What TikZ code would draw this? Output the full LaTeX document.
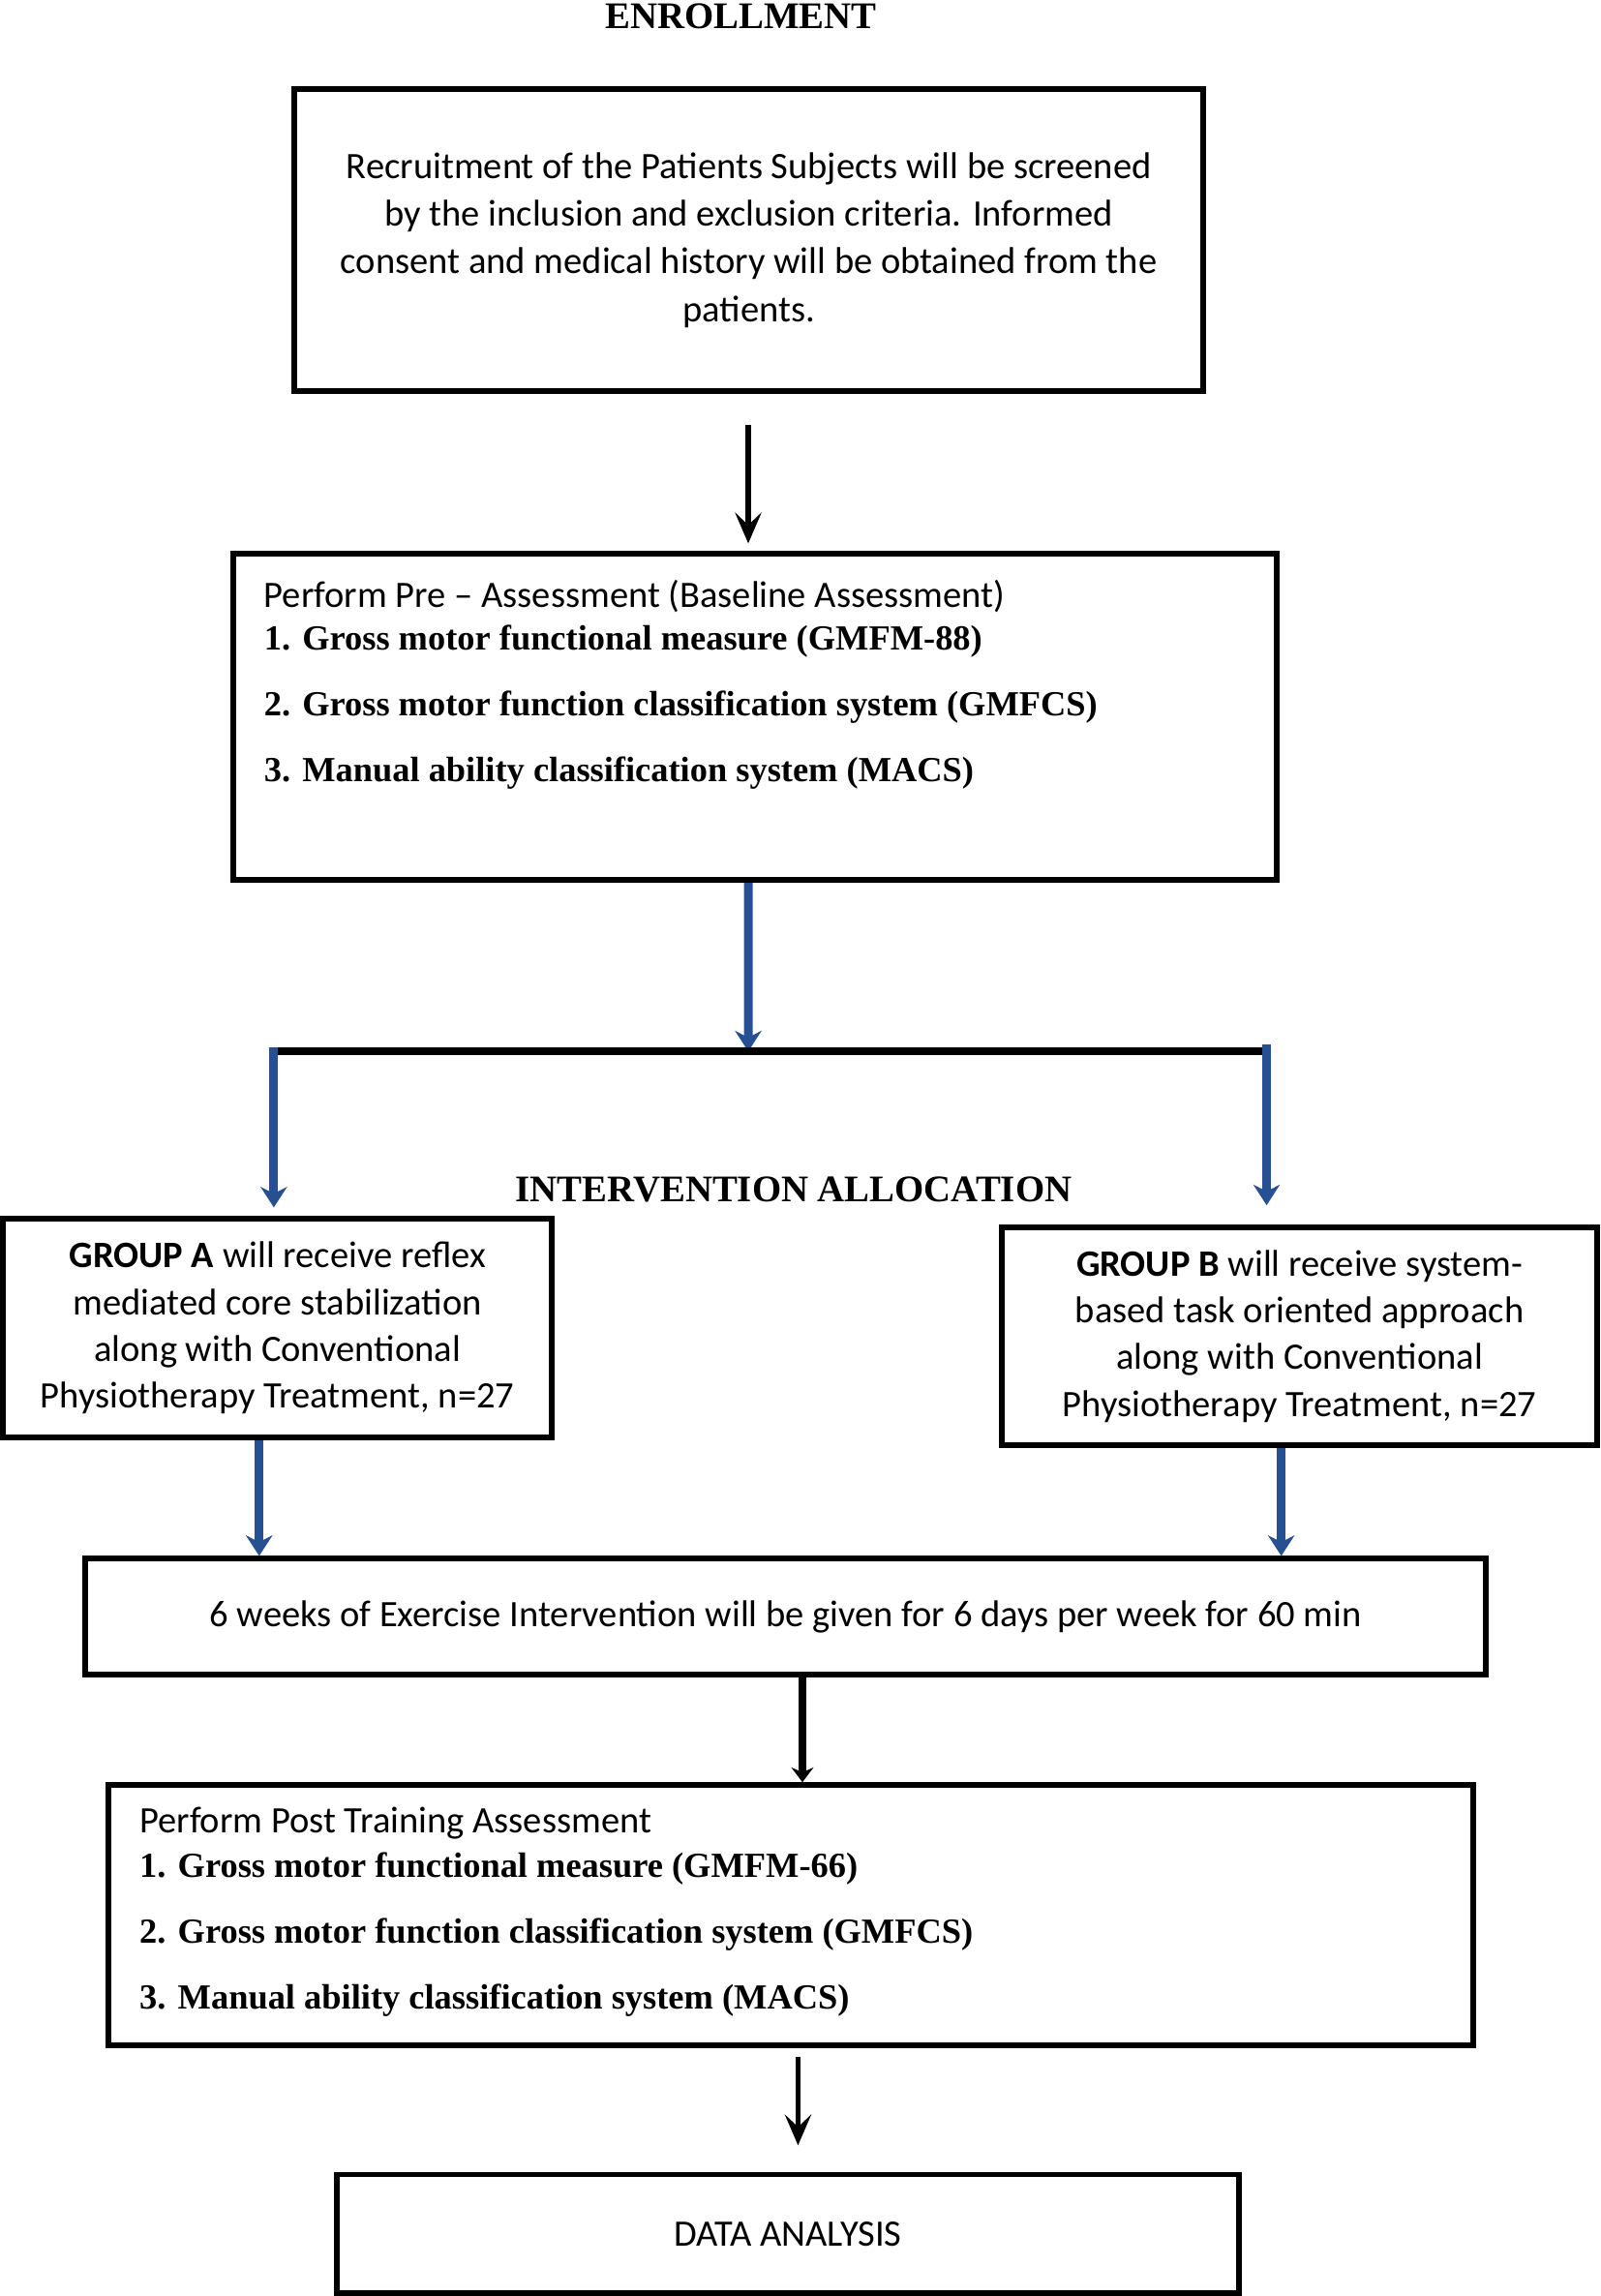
\documentclass[tikz,border=0pt]{standalone}
\usepackage{fontspec}
\setmainfont{Liberation Serif}
\newfontfamily\calibfont{Carlito}
\usetikzlibrary{arrows.meta}
\definecolor{arrowblue}{RGB}{38,80,145}
\begin{document}
\begin{tikzpicture}[x=0.02cm,y=-0.02cm,
  box/.style={draw, line width=2.2pt, inner sep=0pt, align=center,
    font=\calibfont\fontsize{14.5}{18.5}\selectfont},
  heading/.style={font=\bfseries\fontsize{14.6}{17}\selectfont, inner sep=0pt},
  bodytext/.style={font=\calibfont\fontsize{14.5}{18}\selectfont, inner sep=0pt, anchor=base west},
  itemtext/.style={font=\bfseries\fontsize{13.7}{17}\selectfont, inner sep=0pt, anchor=base west},
  blackarrow/.style={line width=2pt, -{Stealth[length=0.42cm,width=0.36cm,inset=0.17cm]}},
  thickarrow/.style={line width=3pt, -{Stealth[length=0.2cm,width=0.3cm]}},
  bluearrow/.style={draw=arrowblue, line width=3.4pt, -{Stealth[length=0.28cm,width=0.36cm]}, arrowblue},
]
\useasboundingbox (0,0) rectangle (1093,1568);

% Headings
\node[heading, anchor=base] (enroll) at (506,19.5) {ENROLLMENT};
\node[heading, anchor=base] (alloc) at (542,821) {INTERVENTION ALLOCATION};

% Box 1
\node[box, minimum width=12.42cm, minimum height=4.12cm] (b1) at (511.5,164)
  {Recruitment of the Patients Subjects will be screened\\
   by the inclusion and exclusion criteria. Informed\\
   consent and medical history will be obtained from the\\
   patients.};

% Box 2
\node[box, minimum width=14.26cm, minimum height=4.46cm] (b2) at (515.5,489.5) {};
\node[bodytext] (b2t0) at (180,415) {Perform Pre – Assessment (Baseline Assessment)};
\node[itemtext] (b2t1) at (180,444) {1. Gross motor functional measure (GMFM-88)};
\node[itemtext] (b2t2) at (180,489) {2. Gross motor function classification system (GMFCS)};
\node[itemtext] (b2t3) at (180,534) {3. Manual ability classification system (MACS)};

% Group boxes
\node[box, minimum width=7.5cm, minimum height=2.98cm, font=\calibfont\fontsize{14.5}{18.2}\selectfont] (ga) at (189.5,907)
  {\textbf{GROUP A} will receive reflex\\
   mediated core stabilization\\
   along with Conventional\\
   Physiotherapy Treatment, n=27};
\node[box, minimum width=8.14cm, minimum height=2.98cm, font=\calibfont\fontsize{14.5}{18.2}\selectfont] (gb) at (887.5,912.5)
  {\textbf{GROUP B} will receive system-\\
   based task oriented approach\\
   along with Conventional\\
   Physiotherapy Treatment, n=27};

% Box 3
\node[box, minimum width=19.14cm, minimum height=1.58cm] (b3) at (536.5,1104)
  {6 weeks of Exercise Intervention will be given for 6 days per week for 60 min};

% Box 4
\node[box, minimum width=18.64cm, minimum height=3.56cm] (b4) at (540,1308) {};
\node[bodytext] (b4t0) at (95,1252) {Perform Post Training Assessment};
\node[itemtext] (b4t1) at (95,1282) {1. Gross motor functional measure (GMFM-66)};
\node[itemtext] (b4t2) at (95,1327) {2. Gross motor function classification system (GMFCS)};
\node[itemtext] (b4t3) at (95,1372) {3. Manual ability classification system (MACS)};

% Box 5
\node[box, minimum width=12.32cm, minimum height=1.62cm] (b5) at (538,1525.5) {DATA ANALYSIS};

% Split coordinates
\coordinate (split) at (511,718);
\coordinate (hl) at (187,718);
\coordinate (hr) at (865,718);

% Connectors
\draw[blackarrow, shorten <=0.42cm, shorten >=0.1cm]
  ([xshift=-0.01cm]b1.south) -- ([xshift=-0.01cm]b1.south |- b2.north);
\draw[bluearrow] ([xshift=-0.09cm]b2.south) -- (split);
\draw[line width=2.8pt] (hl) -- (hr);
\draw[bluearrow, shorten >=0.12cm] ([yshift=0.05cm]hl) -- (hl |- ga.north);
\draw[bluearrow, shorten >=0.26cm] ([yshift=0.1cm]hr) -- (hr |- gb.north);
\draw[bluearrow] ([xshift=-0.25cm]ga.south) -- ([xshift=-0.25cm]ga.south |- b3.north);
\draw[bluearrow] ([xshift=-0.25cm]gb.south) -- ([xshift=-0.25cm]gb.south |- b3.north);
\draw[thickarrow] ([xshift=0.23cm]b3.south) -- ([xshift=0.23cm]b3.south |- b4.north);
\draw[blackarrow, shorten <=0.12cm, shorten >=0.36cm]
  ([xshift=0.1cm]b4.south) -- ([xshift=0.1cm]b4.south |- b5.north);
\end{tikzpicture}
\end{document}
